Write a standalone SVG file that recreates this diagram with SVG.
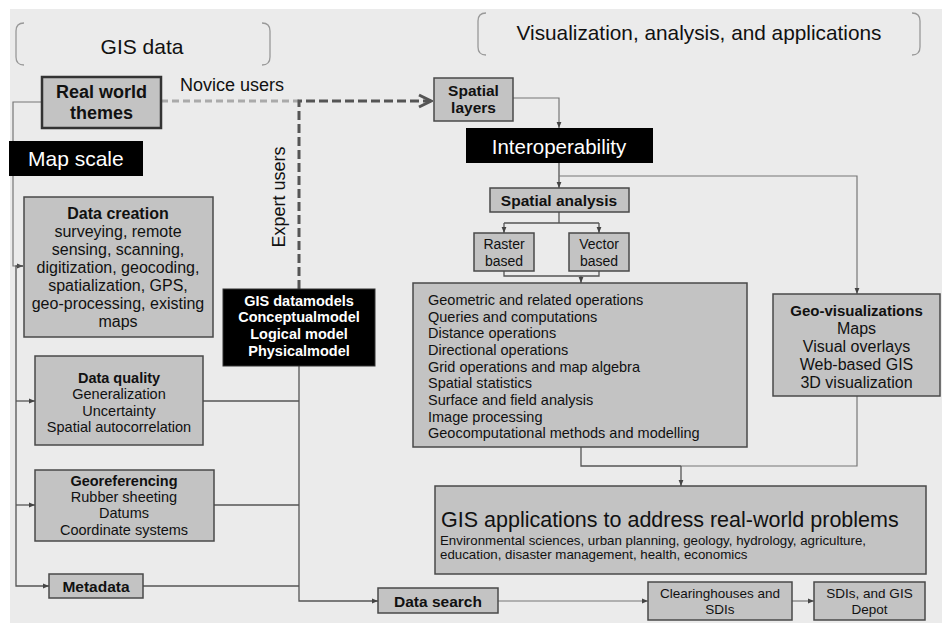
<svg xmlns="http://www.w3.org/2000/svg" width="942" height="623" viewBox="0 0 942 623">
<defs>
<style>
.box{fill:#c3c3c3;stroke:#4a4a4a;stroke-width:1.5}
.blk{fill:#000;stroke:#333;stroke-width:1}
.t{font-family:"Liberation Sans",Arial,sans-serif;fill:#111}
.b{font-weight:bold}
.w{fill:#fff}
.m{text-anchor:middle}
.ln{fill:none;stroke:#555;stroke-width:1.3}
.lg{fill:none;stroke:#777;stroke-width:1.2}
.br{fill:none;stroke:#999;stroke-width:1.3}
</style>
<marker id="arr" viewBox="0 0 10 10" refX="10" refY="5" markerWidth="6" markerHeight="6" orient="auto" markerUnits="userSpaceOnUse"><path d="M0,1 L10,5 L0,9 z" fill="#444"/></marker>
<marker id="chev" viewBox="0 0 16 16" refX="14" refY="8" markerWidth="16" markerHeight="16" orient="auto" markerUnits="userSpaceOnUse"><path d="M2,2 L14,8 L2,14" fill="none" stroke="#555" stroke-width="3"/></marker>
</defs>
<rect x="10" y="9" width="932" height="614" fill="#ebebeb"/>

<g id="hdr-gisdata">
<path class="br" d="M24 23 Q16 23 16 31 L16 57 Q16 65 24 65"/>
<path class="br" d="M262 23 Q270 23 270 31 L270 57 Q270 65 262 65"/>
<text class="t m" x="142" y="54" font-size="21">GIS data</text>
</g>
<g id="hdr-vis">
<path class="br" d="M486 13 Q478 13 478 21 L478 47 Q478 55 486 55"/>
<path class="br" d="M912 13 Q920 13 920 21 L920 47 Q920 55 912 55"/>
<text class="t m" x="699" y="40" font-size="20.8">Visualization, analysis, and applications</text>
</g>

<g id="connectors">
<path class="lg" d="M42,102 H13 V266 H23" marker-end="url(#arr)"/>
<path class="ln" d="M23,266 H16 V586 H49" marker-end="url(#arr)"/>
<path class="ln" d="M16,401 H35" marker-end="url(#arr)"/>
<path class="ln" d="M16,505 H35" marker-end="url(#arr)"/>
<path class="ln" d="M203,401 H299"/>
<path class="ln" d="M214,505 H299"/>
<path class="ln" d="M143,586 H299"/>
<path class="ln" d="M299,366 V601 H378" marker-end="url(#arr)"/>
<path class="lg" d="M498,601 H648" marker-end="url(#arr)"/>
<path class="lg" d="M792,601 H814" marker-end="url(#arr)"/>
<path d="M161,101 H299" fill="none" stroke="#aaa" stroke-width="3" stroke-dasharray="7 4"/>
<path d="M299,289 V101 H431" fill="none" stroke="#555" stroke-width="3" stroke-dasharray="9 4" marker-end="url(#chev)"/>
<path class="lg" d="M513,98 H559 V128" marker-end="url(#arr)"/>
<path class="ln" d="M559,163 V188" marker-end="url(#arr)"/>
<path class="lg" d="M559,176 H857 V294" marker-end="url(#arr)"/>
<path class="ln" d="M559,212 V223"/>
<path class="ln" d="M504,223 H599"/>
<path class="ln" d="M504,223 V233" marker-end="url(#arr)"/>
<path class="ln" d="M599,223 V233" marker-end="url(#arr)"/>
<path class="ln" d="M504,271 V276 H599 V271"/>
<path class="ln" d="M581,276 V283" marker-end="url(#arr)"/>
<path class="ln" d="M581,447 V466 H681"/>
<path class="lg" d="M857,396 V466 H681"/>
<path class="ln" d="M681,466 V486" marker-end="url(#arr)"/>
</g>

<g id="real-world">
<rect x="42" y="77" width="119" height="51" fill="#c3c3c3" stroke="#333" stroke-width="2.5"/>
<text class="t b m" x="101.5" y="98" font-size="18">Real world</text>
<text class="t b m" x="101.5" y="119" font-size="18">themes</text>
</g>
<g id="novice-label"><text class="t" x="180" y="91" font-size="18">Novice users</text></g>
<g id="expert-label"><text class="t m" transform="translate(285,197) rotate(-90)" font-size="18">Expert users</text></g>

<g id="map-scale">
<rect x="9" y="141" width="134" height="35" fill="#000"/>
<text class="t w" x="28" y="166" font-size="21">Map scale</text>
</g>

<g id="data-creation">
<rect class="box" x="24" y="197" width="189" height="140"/>
<text class="t b m" x="118" y="219" font-size="16">Data creation</text>
<text class="t m" x="118" y="237" font-size="16">surveying, remote</text>
<text class="t m" x="118" y="255" font-size="16">sensing, scanning,</text>
<text class="t m" x="118" y="273" font-size="16">digitization, geocoding,</text>
<text class="t m" x="118" y="291" font-size="16">spatialization, GPS,</text>
<text class="t m" x="118" y="309" font-size="16">geo-processing, existing</text>
<text class="t m" x="118" y="327" font-size="16">maps</text>
</g>

<g id="data-quality">
<rect class="box" x="35" y="356" width="168" height="89"/>
<text class="t b m" x="119" y="383" font-size="14.5">Data quality</text>
<text class="t m" x="119" y="399" font-size="14.5">Generalization</text>
<text class="t m" x="119" y="416" font-size="14.5">Uncertainty</text>
<text class="t m" x="119" y="432" font-size="14.5">Spatial autocorrelation</text>
</g>

<g id="georef">
<rect class="box" x="35" y="470" width="179" height="71"/>
<text class="t b m" x="124" y="486" font-size="14.5">Georeferencing</text>
<text class="t m" x="124" y="502" font-size="14.5">Rubber sheeting</text>
<text class="t m" x="124" y="518" font-size="14.5">Datums</text>
<text class="t m" x="124" y="535" font-size="14.5">Coordinate systems</text>
</g>

<g id="metadata">
<rect class="box" x="49" y="574" width="94" height="24"/>
<text class="t b m" x="96" y="592" font-size="15.5">Metadata</text>
</g>

<g id="gis-datamodels">
<rect class="blk" x="223" y="289" width="152" height="77"/>
<text class="t b m w" x="299" y="306" font-size="14.5">GIS datamodels</text>
<text class="t b m w" x="299" y="322" font-size="14.5">Conceptualmodel</text>
<text class="t b m w" x="299" y="339" font-size="14.5">Logical model</text>
<text class="t b m w" x="299" y="356" font-size="14.5">Physicalmodel</text>
</g>

<g id="data-search">
<rect class="box" x="378" y="588" width="120" height="25"/>
<text class="t b m" x="438" y="607" font-size="15.5">Data search</text>
</g>

<g id="clearinghouses">
<rect class="box" x="648" y="582" width="144" height="38"/>
<text class="t m" x="720" y="598" font-size="13.5">Clearinghouses and</text>
<text class="t m" x="720" y="614" font-size="13.5">SDIs</text>
</g>

<g id="sdis">
<rect class="box" x="814" y="582" width="111" height="38"/>
<text class="t m" x="869.5" y="598" font-size="13.5">SDIs, and GIS</text>
<text class="t m" x="869.5" y="614" font-size="13.5">Depot</text>
</g>

<g id="spatial-layers">
<rect class="box" x="434" y="78" width="79" height="43"/>
<text class="t b m" x="473.5" y="96" font-size="15.5">Spatial</text>
<text class="t b m" x="473.5" y="113" font-size="15.5">layers</text>
</g>

<g id="interoperability">
<rect x="466" y="128" width="187" height="35" fill="#000"/>
<text class="t w m" x="559" y="154" font-size="20.5">Interoperability</text>
</g>

<g id="spatial-analysis">
<rect class="box" x="490" y="188" width="139" height="24"/>
<text class="t b m" x="559" y="206" font-size="15.5">Spatial analysis</text>
</g>

<g id="raster">
<rect class="box" x="474" y="233" width="60" height="38"/>
<text class="t m" x="504" y="249" font-size="14">Raster</text>
<text class="t m" x="504" y="266" font-size="14">based</text>
</g>
<g id="vector">
<rect class="box" x="569" y="233" width="60" height="38"/>
<text class="t m" x="599" y="249" font-size="14">Vector</text>
<text class="t m" x="599" y="266" font-size="14">based</text>
</g>

<g id="operations">
<rect class="box" x="413" y="283" width="334" height="164"/>
<text class="t" x="428" y="305" font-size="14.5">Geometric and related operations</text>
<text class="t" x="428" y="321.7" font-size="14.5">Queries and computations</text>
<text class="t" x="428" y="338.3" font-size="14.5">Distance operations</text>
<text class="t" x="428" y="355" font-size="14.5">Directional operations</text>
<text class="t" x="428" y="371.7" font-size="14.5">Grid operations and map algebra</text>
<text class="t" x="428" y="388.3" font-size="14.5">Spatial statistics</text>
<text class="t" x="428" y="405" font-size="14.5">Surface and field analysis</text>
<text class="t" x="428" y="421.7" font-size="14.5">Image processing</text>
<text class="t" x="428" y="438.3" font-size="14.5">Geocomputational methods and modelling</text>
</g>

<g id="geo-vis">
<rect class="box" x="773" y="294" width="167" height="102"/>
<text class="t b m" x="856.5" y="316" font-size="15">Geo-visualizations</text>
<text class="t m" x="856.5" y="334" font-size="16">Maps</text>
<text class="t m" x="856.5" y="352" font-size="16">Visual overlays</text>
<text class="t m" x="856.5" y="370" font-size="16">Web-based GIS</text>
<text class="t m" x="856.5" y="388" font-size="16">3D visualization</text>
</g>

<g id="gis-apps">
<rect class="box" x="435" y="486" width="491" height="88"/>
<text class="t" x="441" y="527" font-size="21.5">GIS applications to address real-world problems</text>
<text class="t" x="440" y="545" font-size="13.3">Environmental sciences, urban planning, geology, hydrology, agriculture,</text>
<text class="t" x="440" y="559" font-size="13.3">education, disaster management, health, economics</text>
</g>
</svg>
